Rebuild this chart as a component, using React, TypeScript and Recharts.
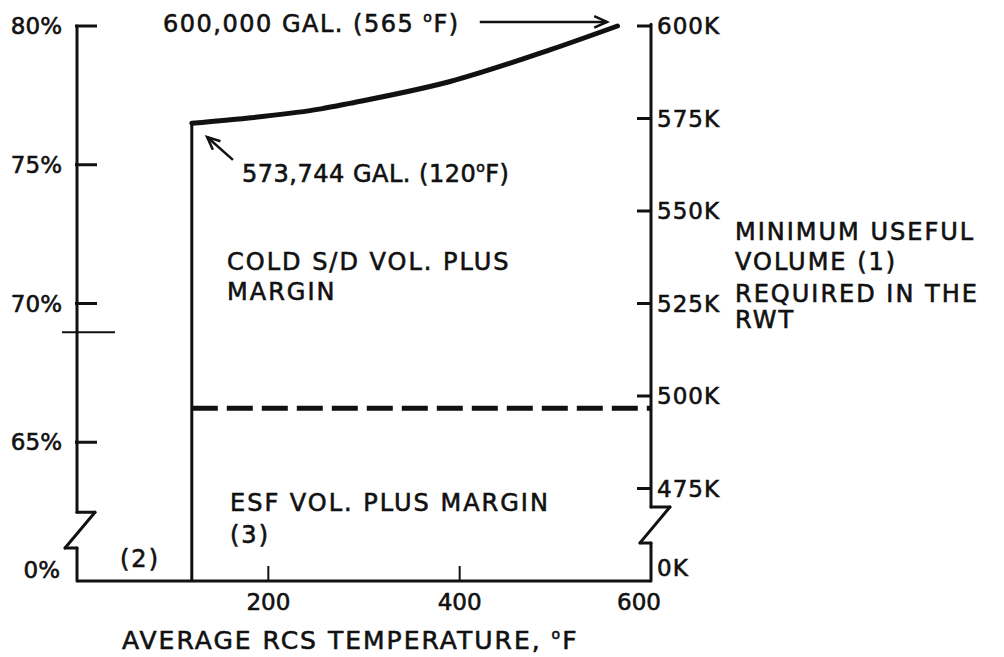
import React from 'react';
import { LineChart, Line, XAxis, YAxis, ReferenceLine } from 'recharts';

// minimum useful RWT volume (thousand gal) vs average RCS temperature (°F)
const curveTemps = [120, 185, 255, 285, 390, 495, 565];
const curveVols = [573.744, 575.3, 577.6, 579.1, 585.0, 593.6, 600.0];

const coldTemp = 120; // vertical step of the curve
const esfVolume = 496.7; // dashed ESF line
const tempTicks = [200, 400, 600];
const pctTicks = [60, 65, 70, 75, 80];
const volTicks = [450, 475, 500, 525, 550, 575, 600];
// broken axes: the bottom value is shown as zero
const pctZero = 60;
const volZero = 450;

// axis outlines with the break zig-zag, as (°F, K gal) pairs
const leftAxisPath = [[0, 600], [0, 468.6], [18.8, 468.6], [-12.5, 458.9], [0, 458.9], [0, 450]];
const rightAxisPath = [[600, 600.5], [600, 470], [619.8, 470], [588.5, 460.3], [600, 460.3], [600, 450]];
const leftCrossMark = [[-15.7, 517.2], [39.7, 517.2]];
const arrowTop = [[421, 601.1], [554, 601.1]];
const arrowStart = [[163, 563.8], [136, 570]];

const curveData = curveTemps.map((t, i) => ({ t, v: curveVols[i] }));
const stepData = [{ t: coldTemp, v: volZero }, { t: coldTemp, v: curveVols[0] }];
const esfData = [{ t: coldTemp, v: esfVolume }, { t: 600, v: esfVolume }];
// keeps the percent axis alive (it has no visible series)
const pctData = [{ t: 0, p: pctZero }, { t: 0, p: 80 }];

const ink = '#111';
const font = "'DejaVu Sans', sans-serif";

const toSegments = (path: number[][]) =>
  path.slice(1).map((p, i) => [
    { x: path[i][0], y: path[i][1] },
    { x: p[0], y: p[1] },
  ]);

const AxisSeg = (p: any) => (
  <line x1={p.x1} y1={p.y1} x2={p.x2} y2={p.y2} stroke={ink} strokeWidth={3} strokeLinecap="round" />
);

const ThinSeg = (p: any) => (
  <line x1={p.x1} y1={p.y1} x2={p.x2} y2={p.y2} stroke={ink} strokeWidth={2} />
);

const Arrow = (p: any) => {
  const { x1, y1, x2, y2 } = p;
  const a = Math.atan2(y2 - y1, x2 - x1);
  const h = 14;
  const w = 0.42;
  const pts = `${x2 - h * Math.cos(a - w)},${y2 - h * Math.sin(a - w)} ${x2},${y2} ${x2 - h * Math.cos(a + w)},${y2 - h * Math.sin(a + w)}`;
  return (
    <g>
      <line x1={x1} y1={y1} x2={x2} y2={y2} stroke={ink} strokeWidth={2.5} />
      <polyline points={pts} fill="none" stroke={ink} strokeWidth={2.5} />
    </g>
  );
};

const labelStyle = { fontFamily: font, fontSize: 23, fill: ink, stroke: ink, strokeWidth: 0.6 };

const PctTick = ({ x, y, payload }: any) => {
  const v = payload.value;
  if (v === pctZero) {
    return <text x={x - 17} y={y - 11} dy={8} textAnchor="end" style={labelStyle}>0%</text>;
  }
  return (
    <g>
      <line x1={x - 2} x2={x + 20} y1={y} y2={y} stroke={ink} strokeWidth={3} />
      <text x={x - 15} y={y} dy={8} textAnchor="end" style={labelStyle}>{v}%</text>
    </g>
  );
};

const VolTick = ({ x, y, payload }: any) => {
  const v = payload.value;
  if (v === volZero) {
    return <text x={x + 6} y={y - 13} dy={8} textAnchor="start" style={{ ...labelStyle, letterSpacing: 1 }}>0K</text>;
  }
  return (
    <g>
      <line x1={x - 14} x2={x + 1} y1={y} y2={y} stroke={ink} strokeWidth={3} />
      <text x={x + 6} y={y} dy={8} textAnchor="start" style={{ ...labelStyle, letterSpacing: 1 }}>{v}K</text>
    </g>
  );
};

const TempTick = ({ x, y, payload }: any) => {
  const v = payload.value;
  return (
    <g>
      {v < 600 && <line x1={x} x2={x} y1={y} y2={y - 15} stroke={ink} strokeWidth={2} />}
      <text x={v === 600 ? x - 12 : x} y={y + 29} textAnchor="middle" style={labelStyle}>{v}</text>
    </g>
  );
};

const txt = { fontFamily: font, fontSize: 24, fill: ink, stroke: ink, strokeWidth: 0.6, letterSpacing: 2 };

const Deg = () => (
  <>
    <tspan dy={-10} fontSize={14}>o</tspan>
    <tspan dy={10}>F</tspan>
  </>
);

export default function App() {
  return (
    <div style={{ position: 'absolute', left: 0, top: 0, width: 1004, height: 657, background: '#fff' }}>
      <LineChart width={1004} height={657} margin={{ top: 26, right: 273, bottom: 36, left: 7 }}>
        <XAxis
          type="number"
          dataKey="t"
          domain={[0, 600]}
          ticks={tempTicks}
          axisLine={{ stroke: ink, strokeWidth: 3 }}
          tickLine={false}
          tickSize={0}
          tickMargin={0}
          tick={<TempTick />}
          height={40}
        />
        <YAxis
          yAxisId="pct"
          type="number"
          domain={[pctZero, 80]}
          ticks={pctTicks}
          axisLine={false}
          tickLine={false}
          tickSize={0}
          tickMargin={0}
          tick={<PctTick />}
          width={70}
        />
        <YAxis
          yAxisId="vol"
          type="number"
          orientation="right"
          domain={[volZero, 600]}
          ticks={volTicks}
          axisLine={false}
          tickLine={false}
          tickSize={0}
          tickMargin={0}
          tick={<VolTick />}
          width={80}
        />
        {[...toSegments(leftAxisPath), ...toSegments(rightAxisPath)].map((seg, i) => (
          <ReferenceLine key={'ax' + i} yAxisId="vol" segment={seg} ifOverflow="visible" shape={AxisSeg} />
        ))}
        <ReferenceLine yAxisId="vol" segment={toSegments(leftCrossMark)[0]} ifOverflow="visible" shape={ThinSeg} />
        {[arrowTop, arrowStart].map((a, i) => (
          <ReferenceLine
            key={'ar' + i}
            yAxisId="vol"
            segment={[{ x: a[0][0], y: a[0][1] }, { x: a[1][0], y: a[1][1] }]}
            ifOverflow="visible"
            shape={Arrow}
          />
        ))}
        <Line yAxisId="pct" data={pctData} dataKey="p" stroke="none" dot={false} activeDot={false} isAnimationActive={false} />
        <Line yAxisId="vol" data={stepData} dataKey="v" type="linear" stroke={ink} strokeWidth={3} dot={false} isAnimationActive={false} />
        <Line yAxisId="vol" data={esfData} dataKey="v" type="linear" stroke={ink} strokeWidth={5} strokeDasharray="26 9" dot={false} isAnimationActive={false} />
        <Line yAxisId="vol" data={curveData} dataKey="v" type="monotone" stroke={ink} strokeWidth={5} strokeLinecap="round" dot={false} isAnimationActive={false} />
      </LineChart>
      <svg width={1004} height={657} style={{ position: 'absolute', left: 0, top: 0, pointerEvents: 'none' }}>
        <text x={163} y={32} style={{ ...txt, letterSpacing: 1.5 }}>600,000 GAL. (565 <Deg />)</text>
        <text x={242} y={182} style={{ ...txt, letterSpacing: 0.5 }}>573,744 GAL. (120<Deg />)</text>
        <text x={227} y={270} style={txt}>COLD S/D VOL. PLUS</text>
        <text x={227} y={300} style={txt}>MARGIN</text>
        <text x={230} y={511} style={txt}>ESF VOL. PLUS MARGIN</text>
        <text x={230} y={543} style={txt}>(3)</text>
        <text x={120} y={567} style={txt}>(2)</text>
        <text x={735} y={240} style={txt}>MINIMUM USEFUL</text>
        <text x={735} y={270} style={txt}>VOLUME (1)</text>
        <text x={735} y={302} style={txt}>REQUIRED IN THE</text>
        <text x={735} y={328} style={txt}>RWT</text>
        <text x={122} y={649} style={{ ...txt, fontSize: 25 }}>AVERAGE RCS TEMPERATURE, <Deg /></text>
      </svg>
    </div>
  );
}
